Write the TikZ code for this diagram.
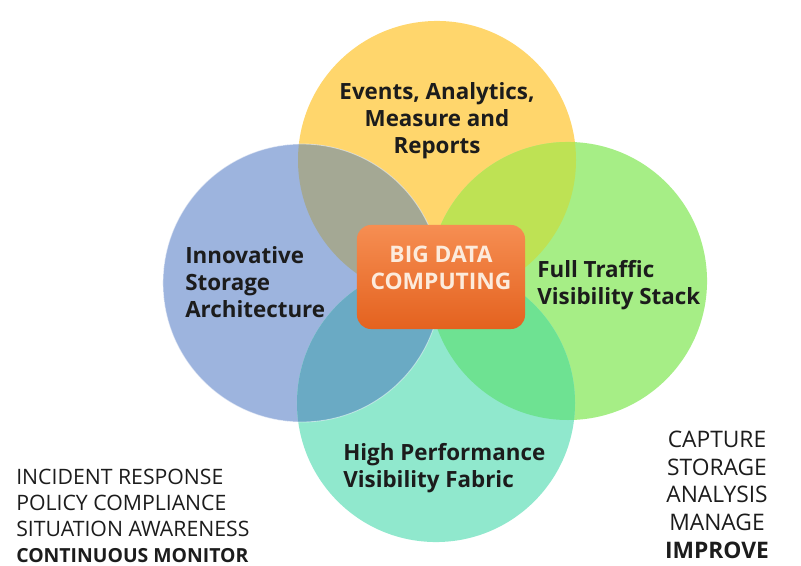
\documentclass[tikz,border=0pt]{standalone}
\usepackage{fontspec}
\setmainfont{Open Sans}
\usepackage{xcolor}
\usetikzlibrary{positioning}

\definecolor{ringyellow}{HTML}{FFD66C}
\definecolor{ringblue}{HTML}{9DB4DE}
\definecolor{ringgreen}{HTML}{A6EE86}
\definecolor{ringteal}{HTML}{90E8CD}
\definecolor{lensyb}{HTML}{A4A894}
\definecolor{lensyg}{HTML}{BEE254}
\definecolor{lensbt}{HTML}{6AAAC4}
\definecolor{lensgt}{HTML}{6EE292}
\definecolor{hubtop}{HTML}{F68E52}
\definecolor{hubbot}{HTML}{E4621F}
\definecolor{hubtext}{HTML}{FCEBDC}
\definecolor{inkdark}{HTML}{1C1C1C}

\begin{document}
\begin{tikzpicture}[
    x=0.025cm, y=-0.025cm,
    ring/.style={circle, minimum size=6.95cm, inner sep=0pt},
    ringtext/.style={font=\bfseries\fontsize{15.9}{19.2}\selectfont,
                     text=inkdark, inner sep=0pt},
    listtext/.style={font=\fontsize{15.1}{18.4}\selectfont,
                     text=inkdark, inner sep=0pt, align=left},
    hub/.style={rectangle, rounded corners=10pt, inner sep=0pt,
                minimum width=4.2cm, minimum height=2.6cm,
                top color=hubtop, bottom color=hubbot},
    hubtext/.style={text=hubtext, align=center, inner sep=0pt,
                font=\bfseries\fontsize{16.2}{19.6}\selectfont}
  ]
    \useasboundingbox (0,0) rectangle (801,565);

    % Les quatre cercles
    \node[ring, fill=ringyellow] (events)  at (437,160) {};
    \node[ring, fill=ringblue]   (storage) at (302,283) {};
    \node[ring, fill=ringgreen]  (traffic) at (568,281) {};
    \node[ring, fill=ringteal]   (fabric)  at (436,403) {};

    % Zones de recouvrement
    \begin{scope}
      \clip (events.center) circle[radius=139];
      \fill[lensyb] (storage.center) circle[radius=139];
      \fill[lensyg] (traffic.center) circle[radius=139];
    \end{scope}
    \begin{scope}
      \clip (fabric.center) circle[radius=139];
      \fill[lensbt] (storage.center) circle[radius=139];
      \fill[lensgt] (traffic.center) circle[radius=139];
    \end{scope}
    \draw[white, opacity=0.5, line width=0.6pt] (storage.center) circle[radius=139];

    % Textes des cercles
    \node[ringtext, align=center] (eventslbl) at (437,121)
      {Events, Analytics,\\Measure and\\Reports};
    \node[ringtext, align=left, anchor=west] (storagelbl) at (185,282)
      {Innovative\\Storage\\Architecture};
    \node[ringtext, align=left, anchor=west] (trafficlbl) at (537,285)
      {Full Traffic\\Visibility Stack};
    \node[ringtext, align=left, anchor=west] (fabriclbl) at (343,468)
      {High Performance\\Visibility Fabric};

    % Bloc central
    \node[hub] (core) at (441,277) {};
    \node[hubtext] (corelbl) at (441,268) {BIG DATA\\COMPUTING};

    % Listes du bas
    \node[listtext, anchor=north west] (usecases) at (16,469)
      {INCIDENT RESPONSE\\POLICY COMPLIANCE\\SITUATION AWARENESS\\
       {\bfseries\fontsize{13.8}{18.4}\selectfont CONTINUOUS MONITOR}};
    \node[listtext, align=center, anchor=north, font=\fontsize{16.2}{19.6}\selectfont] (cycle) at (717,431)
      {CAPTURE\\STORAGE\\ANALYSIS\\MANAGE\\\textbf{IMPROVE}};
\end{tikzpicture}
\end{document}
